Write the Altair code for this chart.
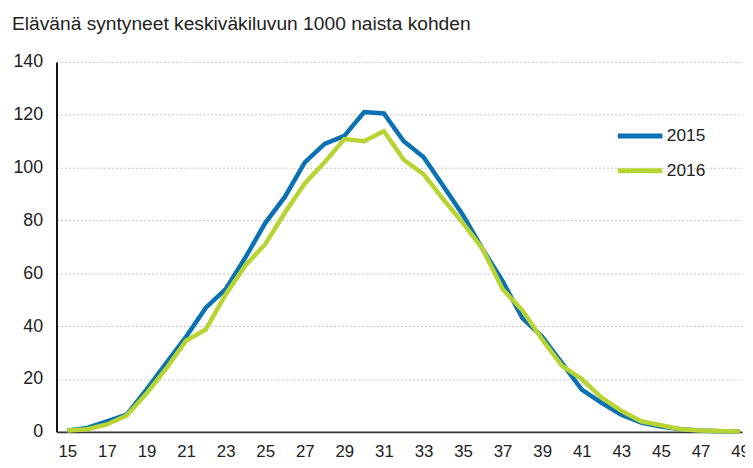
import altair as alt
import pandas as pd

ages = list(range(15, 50))
v2015 = [0.5, 1.5, 4, 6.5, 16, 26, 36, 47, 54, 66, 79, 89, 102, 109, 112, 121, 120.5,
         110, 104, 93, 82, 69, 57, 43, 36, 26, 16, 11, 6.5, 3.5, 2, 1, 0.5, 0.2, 0.1]
v2016 = [0.5, 1, 2.8, 6.2, 14.5, 24, 34.5, 38.8, 52, 63, 71, 83, 94, 102, 110.8, 110, 113.8,
         103, 97.5, 88, 79, 69, 54, 46, 35, 25, 20, 13, 8, 4, 2.5, 1, 0.5, 0.3, 0.1]
years = ["2015", "2016"]
colors = ["#0a71b3", "#b8d432"]
x_ticks = list(range(15, 50, 2))
y_ticks = list(range(0, 141, 20))

rows = []
for a, b, c in zip(ages, v2015, v2016):
    rows.append({"age": a, "year": years[0], "value": b})
    rows.append({"age": a, "year": years[1], "value": c})
df = pd.DataFrame(rows)

FONT = "Liberation Sans"

chart = alt.Chart(df).mark_line(strokeWidth=4.5).encode(
    x=alt.X("age:Q",
            scale=alt.Scale(domain=[14.45, 49.1], nice=False, zero=False),
            axis=alt.Axis(values=x_ticks, title=None, grid=False, ticks=False,
                          labelFontSize=17, labelColor="#222", labelPadding=12,
                          domainColor="#333", domainWidth=2, labelFlush=False,
                          labelFont=FONT)),
    y=alt.Y("value:Q",
            scale=alt.Scale(domain=[0, 140], nice=False),
            axis=alt.Axis(values=y_ticks, title=None, ticks=False,
                          labelFontSize=18, labelColor="#222", labelPadding=14,
                          domainColor="#111", domainWidth=2,
                          gridColor="#c0c0c0", gridDash=[2, 2], gridWidth=1,
                          labelFont=FONT)),
    color=alt.Color("year:N",
                    scale=alt.Scale(domain=years, range=colors),
                    legend=alt.Legend(title=None, orient="none", legendX=565, legendY=50,
                                      symbolType="stroke", symbolSize=2025,
                                      symbolStrokeWidth=5, labelFontSize=17.5,
                                      labelFont=FONT, labelColor="#222",
                                      labelOffset=2, rowPadding=-15, padding=0)),
).properties(
    width=693,
    height=374,
    title=alt.TitleParams(
        "Elävänä syntyneet keskiväkiluvun 1000 naista kohden",
        anchor="start", frame="group", dx=-45, fontSize=19.4, fontWeight="normal",
        font=FONT, color="#222", offset=19),
    autosize=alt.AutoSizeParams(type="none"),
    padding={"left": 49, "top": 52, "right": 3, "bottom": 30},
).configure_view(stroke=None)

chart.save("out.html", embed_options={"renderer": "svg", "actions": False})
